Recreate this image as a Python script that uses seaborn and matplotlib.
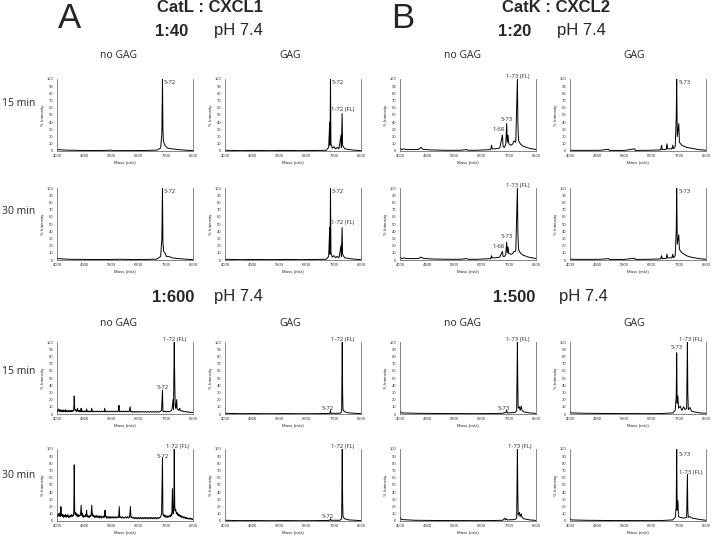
import matplotlib
matplotlib.use("Agg")
import matplotlib.pyplot as plt
import seaborn as sns
import pandas as pd

sns.set_style("white")
plt.rcParams['font.family'] = ['Liberation Sans', 'DejaVu Sans']

# ---------------- data: (mass, % intensity) ----------------
# Panel A : CatL : CXCL1
A40_15_nogag = [(4000,2),(4300,1.2),(4800,0.8),(5400,0.6),(5800,1.2),(5830,0.5),(6500,0.6),(7000,0.8),
                (7300,1.2),(7430,4),(7470,25),(7490,100),(7505,30),(7520,14),(7570,8),(7660,4),(7800,3),
                (8000,2),(8300,1),(8500,0.5)]
A40_15_gag = [(4000,1),(4500,0.5),(5000,0.8),(5500,0.5),(6000,0.8),(6500,0.5),(7000,0.8),(7350,1),(7430,5),
              (7465,40),(7475,8),(7490,100),(7505,10),(7550,4),(7610,6),(7660,3),(7710,5),(7770,3),
              (7840,22),(7850,5),(7875,52),(7890,8),(7960,3),(8200,1.5),(8500,0.5)]
A40_30_nogag = [(4000,2),(4400,1),(4900,0.8),(5500,0.6),(6000,1),(6500,0.7),(7000,0.8),(7300,1.2),
                (7430,5),(7470,30),(7490,100),(7505,25),(7530,12),(7570,10),(7620,5),(7700,5),(7800,3),
                (8000,2),(8300,1),(8500,0.5)]
A40_30_gag = [(4000,1),(4500,0.5),(5000,0.8),(5500,0.5),(6000,0.8),(6500,0.5),(7000,0.8),(7350,1),(7430,5),
              (7465,45),(7475,8),(7490,100),(7505,10),(7550,4),(7610,6),(7660,3),(7710,5),(7770,3),
              (7840,20),(7850,5),(7875,45),(7890,8),(7960,3),(8200,1.5),(8500,0.5)]
A600_15_nogag = [(4000,6),(4020,3),(4040,7),(4060,4),(4080,6),(4100,3),(4120,6),(4140,3),(4160,5),(4180,3),
                 (4200,6),(4220,3),(4240,5),(4260,3),(4280,6),(4300,3),(4320,5),(4340,3),(4360,5),(4380,3),
                 (4400,5),(4420,3),(4440,5),(4460,3),(4480,5),(4500,3),(4520,5),(4540,4),(4555,7),(4570,25),
                 (4585,7),(4600,5),(4620,6),(4640,3),(4660,5),(4680,8),(4695,4),(4710,5),(4730,3),(4750,5),
                 (4770,3),(4785,5),(4800,8),(4815,3),(4830,5),(4850,3),(4870,4),(4890,3),(4910,4),(4930,3),
                 (4950,4),(4965,3),(4980,7),(4995,3),(5010,4),(5030,3),(5050,4),(5070,3),(5090,4),(5110,3),
                 (5130,4),(5150,8),(5165,3),(5180,4),(5200,3),(5230,4),(5260,3),(5290,4),(5320,3),(5350,4),
                 (5380,3),(5410,4),(5440,3),(5470,4),(5500,3),(5530,4),(5560,3),(5580,8),(5595,3),(5620,4),
                 (5650,3),(5680,4),(5710,3),(5740,4),(5770,3),(5800,4),(5830,3),(5860,4),(5890,3),(5920,4),
                 (5950,3),(5980,4),(6010,3),(6035,5),(6050,12),(6065,3),(6090,4),(6120,3),(6150,4),(6180,3),
                 (6210,4),(6240,3),(6270,4),(6300,3),(6330,4),(6360,3),(6390,4),(6420,10),(6435,3),(6460,4),
                 (6490,2.5),(6520,3.5),(6550,2.5),(6580,3.5),(6610,2.5),(6640,3.5),(6670,2.5),(6700,3.5),
                 (6740,2.5),(6780,3.5),(6820,2.5),(6860,3.5),(6900,2.5),(6940,3.5),(6980,2.5),(7020,3.5),
                 (7060,2.5),(7100,3.5),(7140,2.5),(7180,3.5),(7220,2.5),(7260,3.5),(7300,2.5),(7340,3.5),
                 (7380,2.5),(7420,3.5),(7460,5),(7490,33),(7505,4),(7530,3),(7560,4),(7600,3),(7650,3.5),
                 (7700,3),(7750,4),(7790,5),(7810,8),(7840,20),(7855,6),(7880,100),(7895,48),(7910,12),
                 (7930,8),(7960,20),(7975,7),(8000,6),(8030,5),(8060,8),(8080,5),(8110,4),(8150,4.5),
                 (8200,3),(8250,3.5),(8300,2.5),(8350,3),(8400,2),(8450,2.5),(8500,2)]
A600_15_gag = [(4000,1),(4500,0.5),(5000,0.6),(5500,0.4),(6000,0.6),(6500,0.4),(7000,0.5),(7400,0.8),
               (7470,1),(7490,5),(7505,1),(7800,1),(7860,3),(7880,100),(7892,28),(7905,6),(7960,3),
               (8100,1.5),(8500,0.5)]
A600_30_nogag = [(4000,9),(4020,6),(4040,10),(4060,7),(4080,11),(4100,6),(4115,9),(4130,20),(4145,8),(4160,10),
                 (4180,6),(4200,9),(4220,5),(4240,8),(4260,6),(4280,9),(4300,5),(4320,8),(4340,6),(4360,9),
                 (4380,5),(4400,7),(4420,5),(4440,8),(4460,6),(4480,9),(4500,6),(4520,8),(4540,7),(4555,12),
                 (4570,78),(4585,14),(4600,9),(4620,12),(4640,7),(4660,10),(4680,6),(4700,9),(4720,6),(4740,8),
                 (4760,7),(4780,10),(4800,22),(4815,8),(4830,11),(4850,6),(4870,8),(4890,5),(4910,7),(4930,6),
                 (4950,9),(4965,7),(4980,15),(4995,6),(5010,8),(5030,5),(5050,7),(5070,5),(5090,8),(5110,6),
                 (5130,9),(5150,22),(5165,8),(5180,10),(5200,6),(5220,8),(5240,5),(5260,7),(5280,5),(5300,8),
                 (5320,5),(5340,7),(5360,5),(5380,7),(5400,4),(5420,7),(5440,5),(5460,7),(5480,4),(5500,6),
                 (5520,5),(5540,7),(5560,5),(5575,8),(5590,15),(5605,6),(5620,7),(5640,4),(5660,6),(5680,4),
                 (5700,6),(5720,4),(5740,6),(5760,4),(5780,6),(5800,4),(5830,6),(5860,4),(5890,6),(5920,4),
                 (5950,6),(5980,4),(6010,6),(6040,5),(6060,20),(6075,5),(6100,6),(6130,4),(6160,6),(6190,4),
                 (6220,5),(6250,4),(6280,6),(6310,4),(6340,6),(6370,4),(6400,6),(6430,20),(6445,5),(6470,6),
                 (6500,4),(6530,5),(6560,3),(6590,5),(6620,3),(6650,5),(6680,3),(6710,5),(6740,3),(6770,5),
                 (6800,3),(6830,5),(6860,3),(6890,5),(6920,3),(6950,5),(6980,3),(7010,5),(7040,3),(7070,5),
                 (7100,3),(7130,5),(7160,3),(7190,5),(7220,3),(7250,5),(7280,3),(7310,5),(7340,3),(7370,5),
                 (7400,4),(7430,6),(7460,10),(7490,88),(7505,10),(7520,7),(7540,9),(7560,6),(7580,8),(7600,5),
                 (7620,7),(7640,5),(7660,7),(7680,5),(7700,7),(7720,6),(7740,8),(7760,6),(7780,10),(7800,8),
                 (7820,45),(7835,12),(7850,10),(7865,15),(7880,100),(7895,22),(7910,14),(7930,16),(7950,10),
                 (7970,12),(7990,8),(8010,10),(8030,7),(8050,9),(8070,6),(8090,8),(8110,5),(8130,7),(8150,5),
                 (8170,6),(8190,4),(8210,6),(8230,4),(8250,5),(8270,3),(8290,5),(8310,3),(8330,4),(8350,3),
                 (8370,4),(8390,2.5),(8410,4),(8430,2.5),(8450,3.5),(8470,2),(8490,3),(8500,2.5)]
A600_30_gag = [(4000,1),(4500,0.5),(5000,0.6),(5500,0.4),(6000,0.6),(6500,0.4),(7000,0.5),(7400,0.8),
               (7470,1),(7490,3),(7505,1),(7800,1),(7860,3),(7880,100),(7892,28),(7905,6),(7960,3),
               (8100,1.5),(8500,0.5)]

# Panel B : CatK : CXCL2
B20_15_nogag = [(4000,4),(4050,2),(4150,3),(4200,2),(4600,2),(4700,5),(4750,2.5),(5000,1.5),(5500,1),
                (6000,1),(6200,2),(6250,1),(6500,1),(6800,1.5),(7000,2),(7030,8),(7050,3),(7150,3),
                (7300,4),(7390,22),(7410,6),(7460,5),(7500,10),(7530,38),(7550,12),(7575,22),(7600,10),
                (7680,8),(7730,10),(7770,14),(7830,12),(7885,100),(7900,40),(7920,15),(7980,10),(8060,7),
                (8250,4),(8500,2)]
B20_15_gag = [(4000,1),(4500,0.8),(5000,1),(5280,2.5),(5300,0.8),(5800,0.8),(6140,3),(6160,0.8),(6600,1),
              (7000,1.5),(7030,8),(7050,2),(7180,2),(7210,10),(7230,3),(7370,3),(7400,8),(7420,3),
              (7480,6),(7515,45),(7530,100),(7550,20),(7600,38),(7620,12),(7700,8),(7850,5),(8000,4),
              (8250,2),(8500,1)]
B20_30_nogag = [(4000,4),(4050,2),(4150,3),(4200,2),(4600,2),(4700,4),(4750,2.5),(5000,1.5),(5500,1),
                (6000,1),(6200,2),(6250,1),(6500,1),(6800,1.5),(7000,2),(7030,6),(7050,3),(7150,3),
                (7300,4),(7390,12),(7410,5),(7460,5),(7500,8),(7530,25),(7550,10),(7575,18),(7600,9),
                (7680,8),(7730,9),(7770,12),(7830,12),(7885,100),(7900,40),(7920,15),(7980,10),(8060,7),
                (8250,4),(8500,2)]
B20_30_gag = [(4000,1),(4500,0.8),(5000,1),(5280,2),(5300,0.8),(5800,0.8),(6140,2.5),(6160,0.8),(6600,1),
              (7000,1.5),(7030,6),(7050,2),(7180,2),(7210,8),(7230,3),(7370,3),(7400,8),(7420,3),
              (7480,6),(7515,40),(7530,100),(7550,22),(7600,35),(7620,15),(7700,10),(7850,6),(8000,4),
              (8250,2),(8500,1)]
B500_15_nogag = [(4000,4),(4050,1.5),(4500,1),(5000,0.8),(5500,0.6),(6000,0.6),(6500,0.5),(7000,0.6),
                 (7400,1),(7500,2),(7530,5),(7550,1.5),(7800,2),(7860,4),(7885,100),(7898,40),(7910,8),
                 (7950,10),(7975,5),(8010,11),(8040,5),(8100,3),(8300,1.5),(8500,0.8)]
B500_15_gag = [(4000,3),(4050,1.5),(4500,1),(5000,0.8),(5500,0.6),(6000,0.6),(6500,0.5),(7000,0.6),
               (7400,1.5),(7480,5),(7515,25),(7530,85),(7545,15),(7570,25),(7590,8),(7650,11),(7700,5),
               (7760,10),(7810,6),(7860,8),(7885,100),(7898,30),(7915,6),(7970,9),(8020,4),(8100,3),
               (8300,1.5),(8500,1)]
B500_30_nogag = [(4000,5),(4050,2),(4500,1),(5000,0.8),(5500,0.6),(6000,0.6),(6500,0.5),(7000,0.6),
                 (7400,1),(7470,4),(7490,1.5),(7530,3),(7550,1.5),(7800,2),(7860,4),(7885,100),(7898,40),
                 (7910,8),(7950,12),(7975,6),(8010,10),(8040,5),(8100,3),(8300,1.5),(8500,0.8)]
B500_30_gag = [(4000,3),(4050,1.5),(4500,1),(5000,0.8),(5500,0.6),(6000,0.6),(6500,0.5),(7000,0.6),
               (7400,1.5),(7480,5),(7515,20),(7530,100),(7545,15),(7570,28),(7590,6),(7650,5),(7760,4),
               (7860,5),(7885,65),(7898,15),(7915,5),(7970,6),(8050,4),(8300,2),(8500,1)]

# peak labels: (text, mass, intensity, alignment)
A40_15_nogag_lab = [("5-72", 7530, 95, "left")]
A40_15_gag_lab = [("5-72", 7530, 95, "left"), ("1-72 (FL)", 7880, 58, "center")]
A40_30_nogag_lab = [("5-72", 7530, 95, "left")]
A40_30_gag_lab = [("5-72", 7530, 95, "left"), ("1-72 (FL)", 7880, 52, "center")]
A600_15_nogag_lab = [("5-72", 7480, 37, "center"), ("1-72 (FL)", 7880, 104, "center")]
A600_15_gag_lab = [("5-72", 7400, 8, "center"), ("1-72 (FL)", 7880, 104, "center")]
A600_30_nogag_lab = [("5-72", 7490, 90, "center"), ("1-72 (FL)", 7980, 104, "center")]
A600_30_gag_lab = [("5-72", 7400, 6, "center"), ("1-72 (FL)", 7880, 104, "center")]
B20_15_nogag_lab = [("1-73 (FL)", 7885, 104, "center"), ("5-73", 7530, 44, "center"), ("1-68", 7260, 30, "center")]
B20_15_gag_lab = [("5-73", 7580, 95, "left")]
B20_30_nogag_lab = [("1-73 (FL)", 7885, 104, "center"), ("5-73", 7530, 32, "center"), ("1-68", 7260, 19, "center")]
B20_30_gag_lab = [("5-73", 7580, 95, "left")]
B500_15_nogag_lab = [("1-73 (FL)", 7885, 104, "center"), ("5-73", 7420, 8, "center")]
B500_15_gag_lab = [("5-73", 7530, 92, "center"), ("1-73 (FL)", 7980, 104, "center")]
B500_30_nogag_lab = [("1-73 (FL)", 7950, 104, "center")]
B500_30_gag_lab = [("5-73", 7580, 93, "left"), ("1-73 (FL)", 7990, 68, "center")]

x_ticks = [4000, 4900, 5800, 6700, 7600, 8500]
y_ticks = [0, 10, 20, 30, 40, 50, 60, 70, 80, 90, 100]

# ---------------- figure ----------------
W, H = 713, 536
fig = plt.figure(figsize=(W / 100, H / 100), dpi=100)

def rect(x, y, w, h):
    return [x / W, 1 - (y + h) / H, w / W, h / H]

col_x = [57, 225, 400, 570]
row_y = [79, 188, 342, 449]
AW, AH = 136, 72

panels = [
    (0, 0, A40_15_nogag, A40_15_nogag_lab), (0, 1, A40_15_gag, A40_15_gag_lab),
    (1, 0, A40_30_nogag, A40_30_nogag_lab), (1, 1, A40_30_gag, A40_30_gag_lab),
    (2, 0, A600_15_nogag, A600_15_nogag_lab), (2, 1, A600_15_gag, A600_15_gag_lab),
    (3, 0, A600_30_nogag, A600_30_nogag_lab), (3, 1, A600_30_gag, A600_30_gag_lab),
    (0, 2, B20_15_nogag, B20_15_nogag_lab), (0, 3, B20_15_gag, B20_15_gag_lab),
    (1, 2, B20_30_nogag, B20_30_nogag_lab), (1, 3, B20_30_gag, B20_30_gag_lab),
    (2, 2, B500_15_nogag, B500_15_nogag_lab), (2, 3, B500_15_gag, B500_15_gag_lab),
    (3, 2, B500_30_nogag, B500_30_nogag_lab), (3, 3, B500_30_gag, B500_30_gag_lab),
]

for r, c, spec, labs in panels:
    ax = fig.add_axes(rect(col_x[c], row_y[r], AW, AH))
    df = pd.DataFrame(spec, columns=["mass", "intensity"])
    sns.lineplot(data=df, x="mass", y="intensity", ax=ax, color="black", lw=0.7,
                 estimator=None, sort=False)
    ax.set_xlim(4000, 8500)
    ax.set_ylim(0, 100)
    ax.set_xticks(x_ticks)
    ax.set_yticks(y_ticks)
    ax.tick_params(labelsize=3, length=1.5, width=0.4, pad=1, colors="#333333")
    ax.set_xlabel("Mass (m/z)", fontsize=3.2, labelpad=1.5)
    ax.set_ylabel("% Intensity", fontsize=3.2, labelpad=1.5)
    for s in ["left", "bottom", "right"]:
        ax.spines[s].set_linewidth(0.5)
        ax.spines[s].set_color("#555555")
    ax.spines["top"].set_visible(False)
    for txt, mx, my, ha in labs:
        ax.text(mx, my, txt, fontsize=4.3, ha=ha, va="center", clip_on=False,
                family=["Open Sans", "DejaVu Sans"])

# headers
def ftext(x, y, s, **kw):
    fig.text(x / W, 1 - y / H, s, va="center", **kw)

ftext(69, 18, "A", fontsize=25, ha="center")
ftext(403, 18, "B", fontsize=25, ha="center")
ftext(210, 8, "CatL : CXCL1", fontsize=12, fontweight="bold", ha="center")
ftext(172, 31, "1:40", fontsize=12, fontweight="bold", ha="center")
ftext(238, 31, "pH 7.4", fontsize=12, ha="center")
ftext(556, 8, "CatK : CXCL2", fontsize=12, fontweight="bold", ha="center")
ftext(515, 31, "1:20", fontsize=12, fontweight="bold", ha="center")
ftext(581, 31, "pH 7.4", fontsize=12, ha="center")
ftext(173, 297, "1:600", fontsize=12, fontweight="bold", ha="center")
ftext(238, 297, "pH 7.4", fontsize=12, ha="center")
ftext(514, 297, "1:500", fontsize=12, fontweight="bold", ha="center")
ftext(583, 297, "pH 7.4", fontsize=12, ha="center")

hdr = dict(family=["Open Sans", "DejaVu Sans"], ha="center")
for (x, s) in [(119, "no GAG"), (290, "GAG"), (463, "no GAG"), (634, "GAG")]:
    ftext(x, 56, s, fontsize=7.5, **hdr)
    ftext(x, 323, s, fontsize=7.5, **hdr)

for y, s in [(103, "15 min"), (212, "30 min"), (372, "15 min"), (475, "30 min")]:
    ftext(19, y, s, fontsize=7.5, **hdr)

fig.savefig("out.png", dpi=100)
